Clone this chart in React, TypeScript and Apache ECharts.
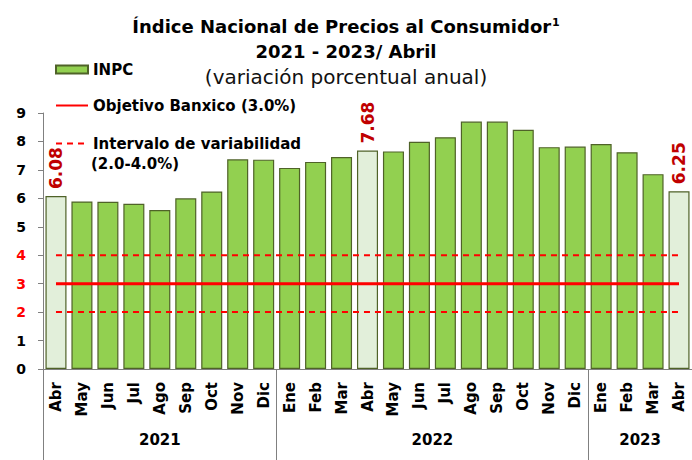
import React, { useEffect, useRef } from "react";
import * as echarts from "echarts";

const months = ["Abr", "May", "Jun", "Jul", "Ago", "Sep", "Oct", "Nov", "Dic", "Ene", "Feb", "Mar", "Abr", "May", "Jun", "Jul", "Ago", "Sep", "Oct", "Nov", "Dic", "Ene", "Feb", "Mar", "Abr"];
const inpc = [6.08, 5.89, 5.88, 5.81, 5.59, 6.0, 6.24, 7.37, 7.36, 7.07, 7.28, 7.45, 7.68, 7.65, 7.99, 8.15, 8.7, 8.7, 8.41, 7.8, 7.82, 7.91, 7.62, 6.85, 6.25];
const highlighted = [0, 12, 24];
const years = ["2021", "2022", "2023"];
const yearStarts = [0, 9, 21];
const yearCenters = [4.5, 15, 23];
const redTicks = [2, 3, 4];
const banxicoTarget = 3.0;
const rangeLow = 2.0;
const rangeHigh = 4.0;

const FONT = "'DejaVu Sans', sans-serif";

export default function App() {
  const ref = useRef<HTMLDivElement>(null);
  useEffect(() => {
    if (!ref.current) return;
    const chart = echarts.init(ref.current, undefined, { renderer: "svg" });
    const barData = inpc.map((v, i) => {
      const hl = highlighted.includes(i);
      return {
        value: v,
        itemStyle: hl ? { color: "#E2EFDA" } : undefined,
        label: hl
          ? {
              show: true,
              position: "top",
              rotate: 90,
              align: "left",
              verticalAlign: "middle",
              distance: 7,
              color: "#C00000",
              fontFamily: FONT,
              fontWeight: "bold",
              fontSize: 17,
              formatter: (p: any) => p.value.toFixed(2),
            }
          : undefined,
      };
    });
    const legendText = { fontFamily: FONT, fontWeight: "bold", fontSize: 15, color: "#000" };
    const option: any = {
      animation: false,
      backgroundColor: "#ffffff",
      title: [
        {
          text: "{t|Índice Nacional de Precios al Consumidor}{s|1}",
          left: "center",
          top: 12,
          textStyle: {
            rich: {
              t: { fontFamily: FONT, fontWeight: "bold", fontSize: 18, color: "#000" },
              s: { fontFamily: FONT, fontWeight: "bold", fontSize: 11, color: "#000", verticalAlign: "top", padding: [0, 0, 8, 1] },
            },
          },
        },
        {
          text: "2021 - 2023/ Abril",
          left: "center",
          top: 37,
          textStyle: { fontFamily: FONT, fontWeight: "bold", fontSize: 18, color: "#000" },
        },
        {
          text: "(variación porcentual anual)",
          left: "center",
          top: 62,
          textStyle: { fontFamily: FONT, fontWeight: "normal", fontSize: 20, color: "#111" },
        },
      ],
      legend: [
        {
          data: [{ name: "INPC", icon: "rect" }],
          left: 50,
          top: 57,
          itemWidth: 32,
          itemHeight: 8,
          textStyle: legendText,
        },
        {
          data: ["Objetivo Banxico (3.0%)"],
          left: 50,
          top: 93,
          itemWidth: 32,
          itemHeight: 12,
          itemStyle: { opacity: 0 },
          textStyle: legendText,
        },
        {
          data: ["Intervalo de variabilidad"],
          left: 50,
          top: 131,
          itemWidth: 32,
          itemHeight: 12,
          itemStyle: { opacity: 0 },
          textStyle: legendText,
        },
      ],
      graphic: [
        {
          type: "text",
          left: 91,
          top: 156,
          style: { text: "(2.0-4.0%)", font: `bold 15px ${FONT}`, fill: "#000" },
        },
      ],
      grid: { left: 43, top: 113, width: 651, bottom: 91, containLabel: false },
      xAxis: [
        {
          type: "category",
          data: months,
          axisLine: { lineStyle: { color: "#808080", width: 1 } },
          axisTick: { show: false },
          axisLabel: {
            rotate: 90,
            interval: 0,
            margin: 13,
            fontFamily: FONT,
            fontWeight: "bold",
            fontSize: 15,
            color: "#000",
          },
        },
        {
          type: "value",
          position: "bottom",
          min: 0,
          max: 25,
          axisLine: { show: false },
          splitLine: { show: false },
          axisTick: { show: true, customValues: yearStarts, length: 91, lineStyle: { color: "#808080", width: 1 } },
          axisLabel: {
            customValues: yearCenters,
            margin: 63,
            formatter: (v: number) => years[yearCenters.indexOf(v)] ?? "",
            fontFamily: FONT,
            fontWeight: "bold",
            fontSize: 15,
            color: "#000",
          },
        },
      ],
      yAxis: {
        type: "value",
        min: 0,
        max: 9,
        interval: 1,
        splitLine: { show: false },
        axisLine: { show: true, lineStyle: { color: "#808080", width: 1 } },
        axisTick: { show: true, length: 5, lineStyle: { color: "#808080" } },
        axisLabel: {
          margin: 17,
          fontFamily: FONT,
          fontWeight: "bold",
          fontSize: 14,
          color: (v: any) => (redTicks.includes(Number(v)) ? "#FF0000" : "#000"),
        },
      },
      series: [
        {
          name: "INPC",
          type: "bar",
          data: barData,
          barCategoryGap: "19%",
          itemStyle: { color: "#92D050", borderColor: "#4F6228", borderWidth: 1.2 },
          z: 2,
        },
        {
          name: "Objetivo Banxico (3.0%)",
          type: "line",
          data: months.map(() => banxicoTarget),
          symbol: "none",
          lineStyle: { color: "#FF0000", width: 3 },
          itemStyle: { color: "#FF0000" },
          z: 4,
        },
        {
          name: "Intervalo de variabilidad",
          type: "line",
          data: months.map(() => rangeLow),
          symbol: "none",
          lineStyle: { color: "#FF0000", width: 2, type: [6, 5] },
          itemStyle: { color: "#FF0000" },
          z: 3,
        },
        {
          name: "Intervalo de variabilidad",
          type: "line",
          data: months.map(() => rangeHigh),
          symbol: "none",
          lineStyle: { color: "#FF0000", width: 2, type: [6, 5] },
          itemStyle: { color: "#FF0000" },
          z: 3,
        },
      ],
    };
    chart.setOption(option);
    return () => chart.dispose();
  }, []);
  return <div ref={ref} style={{ position: "absolute", left: 0, top: 0, width: 692, height: 460 }} />;
}
